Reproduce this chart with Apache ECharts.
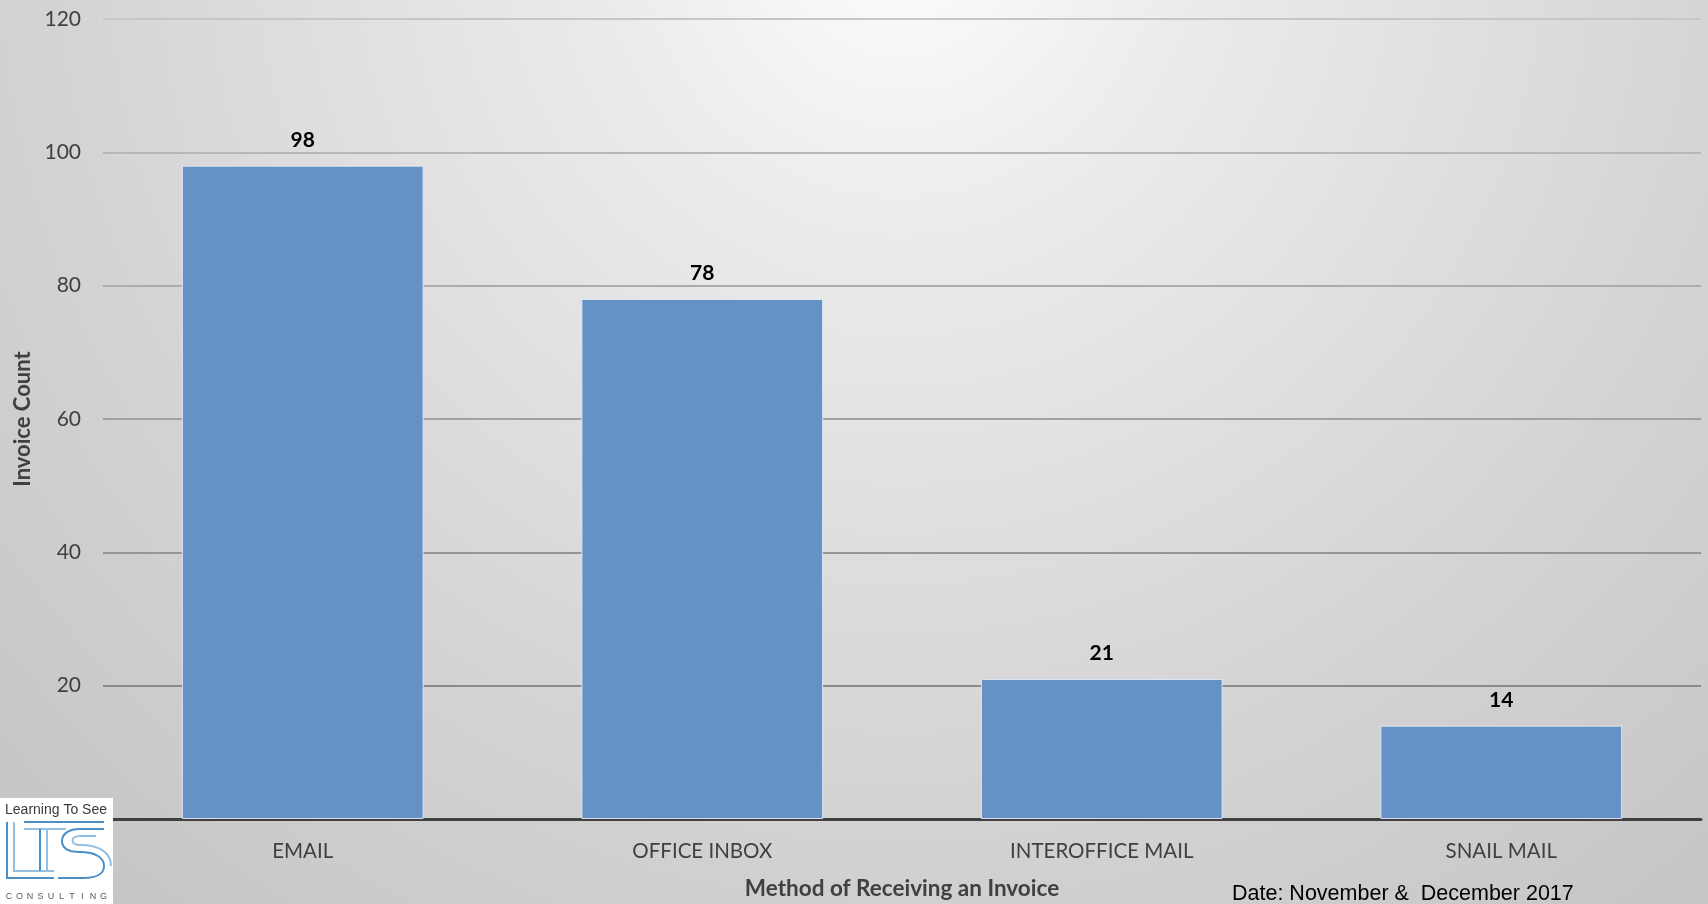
<!DOCTYPE html>
<html>
<head>
<meta charset="utf-8">
<title>Method of Receiving an Invoice</title>
<script src="https://cdn.jsdelivr.net/npm/echarts@6/dist/echarts.min.js"></script>
<style>
  html, body { margin: 0; padding: 0; background: #d6d6d6; }
  #chart { width: 1708px; height: 904px; }
</style>
</head>
<body>
<div id="chart"></div>
<script>
// Invoice counts by the way each invoice arrived
const categories = ['EMAIL', 'OFFICE INBOX', 'INTEROFFICE MAIL', 'SNAIL MAIL'];
const invoiceCounts = [98, 78, 21, 14];
const yTicks = [0, 20, 40, 60, 80, 100, 120];

const xTitle = 'Method of Receiving an Invoice';
const yTitle = 'Invoice Count';
const dateNote = 'Date: November &  December 2017';

const FONT = 'Lato, "Open Sans", sans-serif';
const TEXT_GREY = '#404040';

const chart = echarts.init(document.getElementById('chart'), null, { renderer: 'canvas' });

// Small company mark in the lower-left corner
function logoElements() {
  const els = [];
  const dark = '#4a8fc7', light = '#93bfe3';
  els.push({ type: 'rect', shape: { x: 0, y: 798, width: 113, height: 106 }, style: { fill: '#ffffff' }, z: 20 });
  els.push({
    type: 'text', x: 56, y: 810, z: 21,
    style: { text: 'Learning To See', fill: '#3a3a3a', font: '14px "Liberation Sans Narrow", "Liberation Sans", sans-serif', align: 'center', verticalAlign: 'middle' }
  });
  const polys = [
    { p: [[7, 822], [7, 878], [54, 878]], c: dark },
    { p: [[14, 822], [14, 871], [54, 871]], c: light },
    { p: [[24, 822], [104, 822]], c: dark },
    { p: [[24, 829], [66, 829]], c: light },
    { p: [[40, 829], [40, 871]], c: dark },
    { p: [[47, 829], [47, 871]], c: light },
    { p: [[104, 829], [80, 829]], c: dark },
    { p: [[84, 878], [58, 878]], c: dark },
    { p: [[96, 836], [80, 836]], c: light }
  ];
  polys.forEach(s => els.push({
    type: 'polyline', z: 21,
    shape: { points: s.p },
    style: { fill: null, stroke: s.c, lineWidth: 2 }
  }));
  const curves = [
    { s: [80, 829, 62, 841, 66, 829, 62, 836], c: dark },
    { s: [62, 841, 80, 852, 62, 848, 68, 852], c: dark },
    { s: [80, 852, 104, 866, 96, 852, 104, 858], c: dark },
    { s: [104, 866, 84, 878, 104, 874, 96, 878], c: dark },
    { s: [80, 836, 80, 845, 70, 836, 70, 845], c: light },
    { s: [80, 845, 111, 866, 100, 845, 111, 853], c: light }
  ];
  curves.forEach(b => els.push({
    type: 'bezierCurve', z: 21,
    shape: { x1: b.s[0], y1: b.s[1], x2: b.s[2], y2: b.s[3], cpx1: b.s[4], cpy1: b.s[5], cpx2: b.s[6], cpy2: b.s[7] },
    style: { fill: null, stroke: b.c, lineWidth: 2 }
  }));
  const word = 'CONSULTING';
  for (let i = 0; i < word.length; i++) {
    els.push({
      type: 'text', x: 9 + i * 10.5, y: 897, z: 21,
      style: { text: word[i], fill: '#5a5a5a', font: '9px "Liberation Sans", sans-serif', align: 'center', verticalAlign: 'middle' }
    });
  }
  return els;
}

const option = {
  animation: false,
  backgroundColor: {
    type: 'radial', x: 900, y: -60, r: 1400, global: true,
    colorStops: [
      { offset: 0, color: '#fdfdfd' },
      { offset: 0.2, color: '#ececec' },
      { offset: 0.6, color: '#d4d4d4' },
      { offset: 1, color: '#c0c0c0' }
    ]
  },
  grid: { left: 103, right: 7, top: 19, bottom: 85, containLabel: false, outerBoundsMode: 'none' },
  xAxis: {
    type: 'category',
    data: categories,
    axisLine: { show: true, lineStyle: { color: '#404040', width: 3 } },
    axisTick: { show: false },
    axisLabel: { color: TEXT_GREY, fontFamily: FONT, fontSize: 20.5, margin: 22 },
    name: xTitle,
    nameLocation: 'middle',
    nameGap: 58,
    nameTextStyle: { color: TEXT_GREY, fontFamily: FONT, fontSize: 22.5, fontWeight: 'bold' }
  },
  yAxis: {
    type: 'value',
    min: yTicks[0],
    max: yTicks[yTicks.length - 1],
    interval: yTicks[1] - yTicks[0],
    axisLine: { show: false },
    axisTick: { show: false },
    axisLabel: { color: TEXT_GREY, fontFamily: FONT, fontSize: 21, margin: 22, showMinLabel: false },
    splitLine: {
      show: true,
      lineStyle: {
        width: 2,
        color: ['#404040', '#8a8a8a', '#959595', '#a1a1a1', '#acacac', '#b7b7b7', '#c6c6c6']
      }
    },
    name: yTitle,
    nameLocation: 'middle',
    nameGap: 67,
    nameTextStyle: { color: TEXT_GREY, fontFamily: FONT, fontSize: 22, fontWeight: 'bold' }
  },
  series: [{
    type: 'bar',
    data: invoiceCounts,
    barWidth: '60.5%',
    itemStyle: { color: '#6591c5', borderColor: 'rgba(225,235,248,0.9)', borderWidth: 1 },
    label: {
      show: true,
      position: 'top',
      distance: 15,
      color: '#000000',
      fontFamily: FONT,
      fontSize: 21,
      fontWeight: 'bold'
    }
  }],
  graphic: [
    {
      type: 'text', x: 1232, y: 894, z: 10,
      style: { text: dateNote, fill: '#000000', font: '21.5px "Liberation Sans", Arial, sans-serif', align: 'left', verticalAlign: 'middle' }
    }
  ].concat(logoElements())
};

chart.setOption(option);
</script>
</body>
</html>
